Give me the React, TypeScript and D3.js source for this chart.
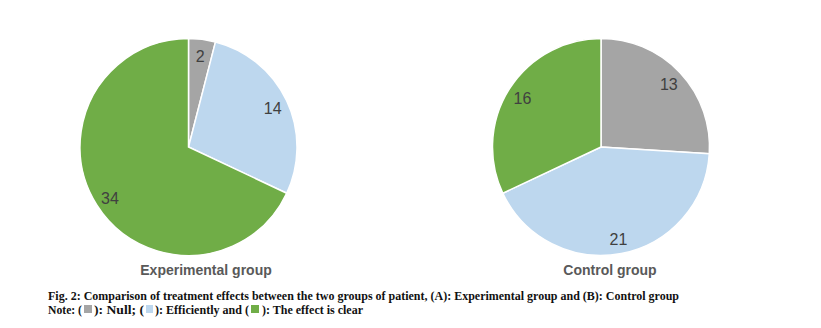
import React from "react";
import * as d3 from "d3";

const categories = ["Null", "Efficiently", "The effect is clear"];
const experimentalValues = [2, 14, 34];
const controlValues = [13, 21, 16];
const groupTitles = ["Experimental group", "Control group"];
const colors = ["#A5A5A5", "#BDD7EE", "#70AD47"];
const captionLine1 =
  "Fig. 2: Comparison of treatment effects between the two groups of patient, (A): Experimental group and (B): Control group";
const noteSegments = ["Note: (", "): Null; (", "): Efficiently and (", "): The effect is clear"];

const W = 821;
const H = 328;

function Pie({ values, cx, cy, r, title, titleX }: { values: number[]; cx: number; cy: number; r: number; title: string; titleX: number }) {
  const pie = d3.pie<number>().sort(null).value((d) => d);
  const arcs = pie(values);
  const arc = d3.arc<d3.PieArcDatum<number>>().innerRadius(0).outerRadius(r);
  const labelArc = d3.arc<d3.PieArcDatum<number>>().innerRadius(93).outerRadius(93);
  return (
    <g>
      <g transform={`translate(${cx},${cy})`}>
        {arcs.map((a, i) => (
          <path key={i} d={arc(a) || ""} fill={colors[i]} stroke="#ffffff" strokeWidth={1.5} />
        ))}
        {arcs.map((a, i) => {
          const [x, y] = labelArc.centroid(a);
          return (
            <text key={"l" + i} x={x} y={y + 1} dy="0.36em" textAnchor="middle" fontFamily="'Liberation Sans', Arial, sans-serif" fontSize={16} fill="#404040">
              {values[i]}
            </text>
          );
        })}
      </g>
      <text x={titleX} y={275} textAnchor="middle" fontFamily="'Liberation Sans', Arial, sans-serif" fontWeight="bold" fontSize={14} fill="#595959">
        {title}
      </text>
    </g>
  );
}

export default function App() {
  const serif = "'Liberation Serif', 'Times New Roman', serif";
  const segX = [
    [48, 82],
    [94, 144],
    [155, 249],
    [262, 363],
  ];
  const squares = [
    [84, 92],
    [146, 153],
    [251, 259],
  ];
  return (
    <svg width={W} height={H} style={{ position: "absolute", left: 0, top: 0, background: "#fff" }}>
      <rect x={0} y={0} width={W} height={H} fill="#ffffff" />
      <Pie values={experimentalValues} cx={188.5} cy={147} r={108.5} title={groupTitles[0]} titleX={206} />
      <Pie values={controlValues} cx={601} cy={147} r={108.5} title={groupTitles[1]} titleX={610} />
      <text x={48} y={300} fontFamily={serif} fontWeight="bold" fontSize={13} fill="#111" textLength={631} lengthAdjust="spacingAndGlyphs">
        {captionLine1}
      </text>
      {noteSegments.map((s, i) => (
        <text key={i} x={segX[i][0]} y={314} fontFamily={serif} fontWeight="bold" fontSize={13} fill="#111" textLength={segX[i][1] - segX[i][0]} lengthAdjust="spacingAndGlyphs">
          {s}
        </text>
      ))}
      {squares.map((sq, i) => (
        <rect key={i} x={sq[0]} y={305} width={sq[1] - sq[0]} height={8} fill={colors[i]} />
      ))}
      <desc>{categories.join(", ")}</desc>
    </svg>
  );
}
